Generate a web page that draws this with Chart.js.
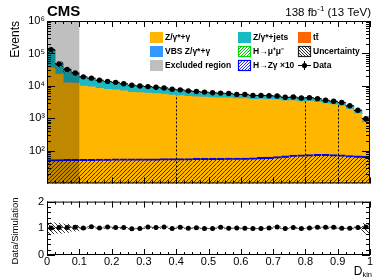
<!DOCTYPE html>
<html>
<head>
<meta charset="utf-8">
<script src="https://cdn.jsdelivr.net/npm/chart.js@4.4.1/dist/chart.umd.min.js"></script>
<style>
  body { margin: 0; background: #fff; width: 390px; height: 280px; overflow: hidden; position: relative; }
  #main { position: absolute; left: 0; top: 0; }
  #ratio { position: absolute; left: 0; top: 192px; }
</style>
</head>
<body>
<canvas id="main" width="390" height="192"></canvas>
<canvas id="ratio" width="390" height="88"></canvas>
<script>
// 40 bins of D_kin between 0 and 1
const nBins = 40;
const binWidth = 0.025;
const binCenters = Array.from({length: nBins}, (_, i) => (i + 0.5) * binWidth);

// events per bin
const dataValues = [131800, 47900, 32400, 25100, 19100, 17400, 15100, 13800, 12900, 11700,
  10500, 10000, 9550, 9120, 8710, 7940, 7590, 7080, 6760, 6460,
  6170, 6030, 5890, 5500, 5500, 5130, 5130, 5010, 4900, 4470,
  4570, 4270, 4370, 4070, 3630, 3390, 3090, 2450, 1780, 980];
const zgValues = [36200, 23000, 12400, 12300, 9910, 9400, 8440, 7830, 7590, 7000,
  6390, 6170, 5990, 5810, 5640, 5210, 5060, 4790, 4640, 4490,
  4360, 4310, 4270, 4040, 4100, 3870, 3920, 3880, 3790, 3460,
  3540, 3310, 3380, 3150, 2850, 2660, 2420, 1920, 1400, 750];
const vbsValues = [650, 235, 160, 123, 94, 85, 74, 68, 63, 57,
  52, 49, 47, 45, 43, 39, 37, 35, 33, 32,
  30, 30, 29, 27, 27, 25, 25, 25, 24, 22,
  22, 21, 21, 20, 18, 17, 15, 12, 9, 5];
const zjetsValues = [90800, 23200, 18860, 11880, 8470, 7410, 6110, 5440, 4845, 4275,
  3734, 3463, 3211, 2978, 2755, 2438, 2254, 2032, 1877, 1732,
  1587, 1499, 1402, 1258, 1198, 1075, 1025, 946, 928, 845,
  864, 809, 828, 772, 649, 603, 559, 439, 315, 180];
const ttValues = [1550, 560, 380, 295, 225, 205, 178, 162, 152, 138,
  124, 118, 112, 107, 102, 93, 89, 83, 80, 76,
  73, 71, 69, 65, 65, 60, 60, 59, 58, 53,
  54, 50, 51, 48, 43, 40, 36, 29, 21, 25];
const hzgValues = [54, 54, 55, 55, 55, 55, 56, 56, 57, 57,
  57, 57, 57, 57, 58, 58, 58, 58, 59, 59,
  59, 59, 60, 60, 60, 61, 63, 64, 67, 70,
  74, 76, 77, 78, 78, 77, 76, 72, 70, 68];
const hmmValues = [6, 6, 6, 6, 6, 6, 6, 6, 6, 6,
  6, 6, 6, 6, 6, 6, 6, 6, 6, 6,
  6, 6, 6, 6, 6, 6, 6, 6, 6, 6,
  6, 6, 6, 6, 6, 6, 6, 6, 6, 6];
// relative uncertainty of the simulation
const uncValues = [0.22, 0.20, 0.17, 0.12, 0.05, 0.02, 0.02, 0.02, 0.02, 0.02,
  0.02, 0.02, 0.02, 0.02, 0.02, 0.02, 0.02, 0.02, 0.02, 0.02,
  0.02, 0.02, 0.02, 0.02, 0.02, 0.02, 0.02, 0.02, 0.02, 0.02,
  0.02, 0.02, 0.02, 0.02, 0.02, 0.02, 0.02, 0.03, 0.06, 0.20];
// data / simulation
const ratioValues = [1.01, 1.03, 1.03, 1.04, 1.01, 1.06, 1.01, 1.05, 1.03, 1.03,
  0.98, 0.99, 1.05, 1.03, 1.05, 0.99, 1.04, 1.00, 1.02, 0.99,
  0.99, 1.04, 1.00, 1.01, 1.00, 0.99, 0.99, 1.01, 1.05, 0.99,
  1.03, 0.99, 1.01, 1.04, 1.04, 1.04, 1.00, 1.00, 1.03, 1.05];
const ratioErr = [0.01, 0.01, 0.01, 0.01, 0.01, 0.01, 0.01, 0.01, 0.01, 0.01,
  0.01, 0.01, 0.01, 0.01, 0.01, 0.01, 0.01, 0.01, 0.01, 0.01,
  0.01, 0.01, 0.01, 0.01, 0.01, 0.01, 0.01, 0.01, 0.01, 0.02,
  0.02, 0.02, 0.02, 0.02, 0.02, 0.02, 0.02, 0.02, 0.03, 0.04];

const excludedRange = [0, 0.1];
const cutEdges = [0.4, 0.8, 0.9];
const xLabelTicks = [0, 0.1, 0.2, 0.3, 0.4, 0.5, 0.6, 0.7, 0.8, 0.9, 1];
const yMainTicks = [100, 1000, 10000, 100000, 1000000];
const yRatioTicks = [0, 1, 2];

const C = {
  zg: 'rgb(254,182,0)',
  zjets: 'rgb(24,186,196)',
  tt: 'rgb(255,102,0)',
  vbs: 'rgb(51,153,255)',
  excl: 'rgb(191,191,191)'
};
const FONT = "'Liberation Sans', Arial, Helvetica, sans-serif";
Chart.defaults.font.family = FONT;
Chart.defaults.font.size = 11;
Chart.defaults.color = '#000';

function hatch(color, dir, size, bg) {
  const c = document.createElement('canvas');
  c.width = size; c.height = size;
  const g = c.getContext('2d');
  if (bg) { g.fillStyle = bg; g.fillRect(0, 0, size, size); }
  g.strokeStyle = color;
  g.lineWidth = 1;
  g.beginPath();
  if (dir === '/') {
    g.moveTo(0, size); g.lineTo(size, 0);
    g.moveTo(-1, 1); g.lineTo(1, -1);
    g.moveTo(size - 1, size + 1); g.lineTo(size + 1, size - 1);
  } else {
    g.moveTo(0, 0); g.lineTo(size, size);
    g.moveTo(-1, size - 1); g.lineTo(1, size + 1);
    g.moveTo(size - 1, -1); g.lineTo(size + 1, 1);
  }
  g.stroke();
  return g.createPattern(c, 'repeat');
}
const hzgHatch = hatch('rgba(20,20,90,0.85)', '/', 4);
const hmmHatch = hatch('rgb(0,200,0)', '/', 4);
const uncHatch = hatch('rgba(0,0,0,0.8)', '\\', 4);
const hzgLegend = hatch('rgb(40,40,255)', '/', 3, '#fff');
const hmmLegend = hatch('rgb(0,210,0)', '/', 3, '#fff');
const uncLegend = hatch('rgb(40,40,40)', '\\', 3, '#fff');

const pts = (vals) => vals.map((v, i) => ({x: binCenters[i], y: v}));
const sup = {'1': '¹', '2': '²', '3': '³', '4': '⁴', '5': '⁵', '6': '⁶'};

function drawTicks(chart, xMaj, xMin, yMaj, yMin, lx, ly) {
  const {ctx, chartArea: a, scales: {x, y}} = chart;
  ctx.save();
  ctx.strokeStyle = '#000';
  ctx.lineWidth = 1;
  ctx.strokeRect(a.left + 0.5, a.top + 0.5, a.right - a.left - 1, a.bottom - a.top - 1);
  ctx.beginPath();
  const xt = (v, len) => {
    const p = Math.round(x.getPixelForValue(v)) + 0.5;
    ctx.moveTo(p, a.bottom); ctx.lineTo(p, a.bottom - len);
    ctx.moveTo(p, a.top); ctx.lineTo(p, a.top + len);
  };
  const yt = (v, len) => {
    const p = Math.round(y.getPixelForValue(v)) + 0.5;
    ctx.moveTo(a.left, p); ctx.lineTo(a.left + len, p);
    ctx.moveTo(a.right, p); ctx.lineTo(a.right - len, p);
  };
  xMaj.forEach(v => xt(v, lx[0]));
  xMin.forEach(v => xt(v, lx[1]));
  yMaj.forEach(v => yt(v, ly[0]));
  yMin.forEach(v => yt(v, ly[1]));
  ctx.stroke();
  ctx.restore();
}

const xMinorTicks = Array.from({length: 41}, (_, k) => k / 40);
const yLogMinor = [];
[10, 100, 1000, 10000, 100000].forEach(d => { for (let m = 2; m <= 9; m++) yLogMinor.push(d * m); });
const yRatioMinor = [0.2, 0.4, 0.6, 0.8, 1.2, 1.4, 1.6, 1.8];

const legendItems = [
  {label: 'Z/γ*+γ', col: 0, row: 0, fill: C.zg},
  {label: 'VBS Z/γ*+γ', col: 0, row: 1, fill: C.vbs},
  {label: 'Excluded region', col: 0, row: 2, fill: C.excl},
  {label: 'Z/γ*+jets', col: 1, row: 0, fill: C.zjets},
  {label: 'H→μ⁺μ⁻', col: 1, row: 1, fill: hmmLegend, line: 'rgb(0,220,0)'},
  {label: 'H→Zγ ×10', col: 1, row: 2, fill: hzgLegend, line: 'rgb(0,0,255)'},
  {label: 'tt̄', col: 2, row: 0, fill: C.tt},
  {label: 'Uncertainty', col: 2, row: 1, fill: uncLegend, line: '#222'},
  {label: 'Data', col: 2, row: 2, marker: true}
];
const legCols = [150, 238, 298];
const legRows = [37, 51, 65];

const mainDecor = {
  id: 'mainDecor',
  afterDatasetDraw(chart, args) {
    if (args.index !== 1) return;
    const {ctx, chartArea: a, scales: {x, y}} = chart;
    ctx.save();
    ctx.beginPath();
    ctx.rect(a.left, a.top, a.right - a.left, a.bottom - a.top);
    ctx.clip();
    // simulation uncertainty band
    ctx.fillStyle = uncHatch;
    for (let i = 0; i < nBins; i++) {
      const tot = zgValues[i] + vbsValues[i] + zjetsValues[i] + ttValues[i];
      const x0 = x.getPixelForValue(binCenters[i] - binWidth / 2);
      const x1 = x.getPixelForValue(binCenters[i] + binWidth / 2);
      const y0 = y.getPixelForValue(tot * (1 + uncValues[i]));
      const y1 = y.getPixelForValue(tot * (1 - uncValues[i]));
      ctx.fillRect(x0, y0, x1 - x0, y1 - y0);
    }
    // excluded region
    ctx.globalCompositeOperation = 'multiply';
    ctx.fillStyle = C.excl;
    const e0 = x.getPixelForValue(excludedRange[0]);
    const e1 = x.getPixelForValue(excludedRange[1]);
    ctx.fillRect(e0, a.top, e1 - e0, a.bottom - a.top);
    ctx.globalCompositeOperation = 'source-over';
    // category boundaries
    ctx.strokeStyle = '#000';
    ctx.lineWidth = 1;
    ctx.setLineDash([2, 2]);
    cutEdges.forEach(c => {
      const k = Math.round(c / binWidth);
      const top = Math.max(zgValues[k - 1], zgValues[k]);
      const px = Math.round(x.getPixelForValue(c)) + 0.5;
      ctx.beginPath();
      ctx.moveTo(px, a.bottom);
      ctx.lineTo(px, y.getPixelForValue(top));
      ctx.stroke();
    });
    ctx.setLineDash([]);
    // data x error bars
    ctx.beginPath();
    for (let i = 0; i < nBins; i++) {
      const py = y.getPixelForValue(dataValues[i]);
      ctx.moveTo(x.getPixelForValue(binCenters[i] - binWidth / 2), py);
      ctx.lineTo(x.getPixelForValue(binCenters[i] + binWidth / 2), py);
    }
    ctx.stroke();
    ctx.restore();
  },
  afterDraw(chart) {
    const {ctx} = chart;
    drawTicks(chart, xLabelTicks, xMinorTicks, yMainTicks, yLogMinor, [6, 3], [8, 4]);
    ctx.save();
    // legend
    ctx.font = 'bold 8.5px ' + FONT;
    ctx.textBaseline = 'middle';
    ctx.textAlign = 'left';
    legendItems.forEach(it => {
      const bx = legCols[it.col], cy = legRows[it.row];
      if (it.marker) {
        ctx.strokeStyle = '#000';
        ctx.lineWidth = 1;
        ctx.beginPath();
        ctx.moveTo(bx, cy + 0.5); ctx.lineTo(bx + 13, cy + 0.5);
        ctx.moveTo(bx + 6.5, cy - 4); ctx.lineTo(bx + 6.5, cy + 5);
        ctx.stroke();
        ctx.fillStyle = '#000';
        ctx.beginPath();
        ctx.arc(bx + 6.5, cy + 0.5, 2.6, 0, Math.PI * 2);
        ctx.fill();
      } else {
        ctx.fillStyle = it.fill;
        ctx.fillRect(bx, cy - 5, 13, 11);
        if (it.line) {
          ctx.strokeStyle = it.line;
          ctx.lineWidth = 1.2;
          ctx.strokeRect(bx + 0.5, cy - 4.5, 12, 10);
        }
      }
      ctx.fillStyle = '#000';
      ctx.fillText(it.label, bx + 15, cy + 1);
    });
    // header texts
    ctx.textBaseline = 'alphabetic';
    ctx.font = 'bold 15px ' + FONT;
    ctx.fillText('CMS', 47, 16);
    ctx.font = '11.5px ' + FONT;
    ctx.textAlign = 'right';
    const tail = ' (13 TeV)';
    let xr = 371;
    ctx.fillText(tail, xr, 16);
    xr -= ctx.measureText(tail).width;
    ctx.font = '8px ' + FONT;
    ctx.fillText('-1', xr, 11);
    xr -= ctx.measureText('-1').width;
    ctx.font = '11.5px ' + FONT;
    ctx.fillText('138 fb', xr, 16);
    // y title
    ctx.translate(16, 21);
    ctx.rotate(-Math.PI / 2);
    ctx.textAlign = 'right';
    ctx.textBaseline = 'middle';
    ctx.font = '12px ' + FONT;
    ctx.fillText('Events', 0, 0);
    ctx.restore();
  }
};

new Chart(document.getElementById('main'), {
  type: 'bar',
  data: {
    datasets: [
      {type: 'line', label: 'Data', data: pts(dataValues), showLine: false, pointRadius: 2.7,
       pointHoverRadius: 2.7, pointBackgroundColor: '#000', pointBorderWidth: 0, stack: 'data', order: 0},
      {label: 'H→Zγ ×10', data: pts(hzgValues), backgroundColor: hzgHatch, borderColor: 'rgb(0,0,255)',
       borderWidth: {top: 1.3, left: 0, right: 0, bottom: 0}, borderSkipped: false,
       grouped: false, stack: 'hzg', order: 1},
      {label: 'H→μ⁺μ⁻', data: pts(hmmValues), backgroundColor: hmmHatch, grouped: false, stack: 'hmm', order: 2},
      {label: 'Z/γ*+γ', data: pts(zgValues), backgroundColor: C.zg, stack: 'bkg', order: 3},
      {label: 'VBS Z/γ*+γ', data: pts(vbsValues), backgroundColor: C.vbs, stack: 'bkg', order: 3},
      {label: 'Z/γ*+jets', data: pts(zjetsValues), backgroundColor: C.zjets, stack: 'bkg', order: 3},
      {label: 'tt̄', data: pts(ttValues), backgroundColor: C.tt, stack: 'bkg', order: 3}
    ]
  },
  options: {
    responsive: false,
    animation: false,
    events: [],
    layout: {padding: {left: 0, right: 20, top: 21, bottom: 4}},
    plugins: {legend: {display: false}, tooltip: {enabled: false}},
    datasets: {bar: {barPercentage: 1, categoryPercentage: 1, borderWidth: 0, inflateAmount: 0.4}},
    scales: {
      x: {type: 'linear', min: 0, max: 1, offset: false, display: false},
      y: {
        type: 'logarithmic', min: 10, max: 1e6, stacked: true,
        grid: {display: false, drawTicks: false}, border: {display: false},
        afterFit(s) { s.width = 47; },
        afterBuildTicks(s) { s.ticks = yMainTicks.map(v => ({value: v})); },
        ticks: {autoSkip: false, padding: 2, callback: (v) => '10' + sup[String(Math.round(Math.log10(v)))]}
      }
    }
  },
  plugins: [mainDecor]
});

const ratioDecor = {
  id: 'ratioDecor',
  beforeDatasetsDraw(chart) {
    const {ctx, chartArea: a, scales: {x, y}} = chart;
    ctx.save();
    ctx.beginPath();
    ctx.rect(a.left, a.top, a.right - a.left, a.bottom - a.top);
    ctx.clip();
    ctx.fillStyle = uncHatch;
    for (let i = 0; i < nBins; i++) {
      const x0 = x.getPixelForValue(binCenters[i] - binWidth / 2);
      const x1 = x.getPixelForValue(binCenters[i] + binWidth / 2);
      const y0 = y.getPixelForValue(1 + uncValues[i]);
      const y1 = y.getPixelForValue(1 - uncValues[i]);
      ctx.fillRect(x0, y0, x1 - x0, y1 - y0);
    }
    ctx.strokeStyle = '#555';
    ctx.lineWidth = 1;
    ctx.beginPath();
    for (let i = 0; i < nBins; i++) {
      const px = x.getPixelForValue(binCenters[i]);
      const py = y.getPixelForValue(ratioValues[i]);
      ctx.moveTo(x.getPixelForValue(binCenters[i] - binWidth / 2), py);
      ctx.lineTo(x.getPixelForValue(binCenters[i] + binWidth / 2), py);
      ctx.moveTo(px, y.getPixelForValue(ratioValues[i] - ratioErr[i]));
      ctx.lineTo(px, y.getPixelForValue(ratioValues[i] + ratioErr[i]));
    }
    ctx.stroke();
    ctx.restore();
  },
  afterDraw(chart) {
    const {ctx} = chart;
    drawTicks(chart, xLabelTicks, xMinorTicks, yRatioTicks, yRatioMinor, [6, 3], [8, 4]);
    ctx.save();
    ctx.fillStyle = '#000';
    ctx.translate(15, 39);
    ctx.rotate(-Math.PI / 2);
    ctx.textAlign = 'center';
    ctx.textBaseline = 'middle';
    ctx.font = '9.5px ' + FONT;
    ctx.fillText('Data/Simulation', 0, 0);
    ctx.restore();
    ctx.save();
    ctx.fillStyle = '#000';
    ctx.textAlign = 'right';
    ctx.font = '7.5px ' + FONT;
    ctx.fillText('kin', 372, 85);
    const w = ctx.measureText('kin').width;
    ctx.font = '12px ' + FONT;
    ctx.fillText('D', 372 - w, 83);
    ctx.restore();
  }
};

new Chart(document.getElementById('ratio'), {
  type: 'line',
  data: {
    datasets: [
      {label: 'Data/Simulation', data: pts(ratioValues), showLine: false, pointRadius: 2.5,
       pointHoverRadius: 2.5, pointBackgroundColor: '#000', pointBorderWidth: 0}
    ]
  },
  options: {
    responsive: false,
    animation: false,
    events: [],
    layout: {padding: {left: 0, right: 20, top: 8, bottom: 0}},
    plugins: {legend: {display: false}, tooltip: {enabled: false}},
    scales: {
      x: {
        type: 'linear', min: 0, max: 1,
        grid: {display: false, drawTicks: false}, border: {display: false},
        afterFit(s) { s.height = 25; },
        afterBuildTicks(s) { s.ticks = xLabelTicks.map(v => ({value: v})); },
        ticks: {autoSkip: false, maxRotation: 0, padding: 0,
                callback: (v) => (v === 0 || v === 1) ? String(v) : v.toFixed(1)}
      },
      y: {
        type: 'linear', min: 0, max: 2,
        grid: {display: false, drawTicks: false}, border: {display: false},
        afterFit(s) { s.width = 47; },
        afterBuildTicks(s) { s.ticks = yRatioTicks.map(v => ({value: v})); },
        ticks: {autoSkip: false, padding: 3}
      }
    }
  },
  plugins: [ratioDecor]
});
</script>
</body>
</html>
